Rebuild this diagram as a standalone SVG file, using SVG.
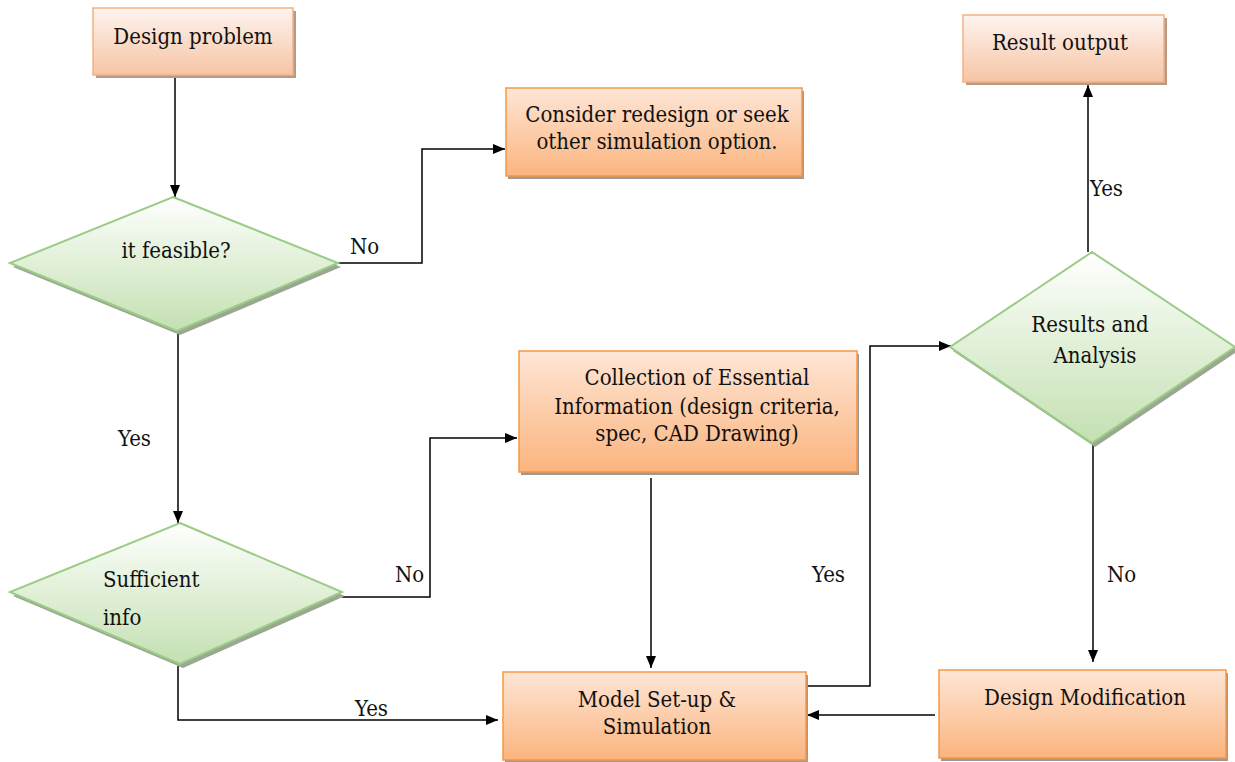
<svg xmlns="http://www.w3.org/2000/svg" width="1235" height="762" viewBox="0 0 1235 762">
<defs>
<linearGradient id="gOrange" x1="0" y1="0" x2="0" y2="1">
<stop offset="0" stop-color="#fee6d6"/>
<stop offset="1" stop-color="#fbb47e"/>
</linearGradient>
<linearGradient id="gPeach" x1="0" y1="0" x2="0" y2="1">
<stop offset="0" stop-color="#fef4ef"/>
<stop offset="1" stop-color="#f6c4a4"/>
</linearGradient>
<linearGradient id="gGreen" x1="0" y1="0" x2="0" y2="1">
<stop offset="0" stop-color="#ffffff"/>
<stop offset="0.35" stop-color="#e9f4e2"/>
<stop offset="1" stop-color="#c4e0b2"/>
</linearGradient>
<marker id="arr" viewBox="0 0 12 10" refX="12" refY="5" markerWidth="12" markerHeight="10" markerUnits="userSpaceOnUse" orient="auto">
<path d="M0,0 L12,5 L0,10 z" fill="#000"/>
</marker>
</defs>
<style>
text{font-family:'DejaVu Serif',serif;font-stretch:condensed;font-size:22px;fill:#111}
.c{text-anchor:middle}
.box{fill:url(#gOrange);stroke:#f79646;stroke-width:1.5}
.boxL{fill:url(#gPeach);stroke:#f4b183;stroke-width:1.5}
.sh{fill:#9a9a9a}
.shL{fill:#b59a88}
.dia{fill:url(#gGreen);stroke:#9bcc85;stroke-width:2}
.shD{fill:#9aa892}
.ln{fill:none;stroke:#000;stroke-width:1.5}
</style>
<rect width="1235" height="762" fill="#fff"/>

<g id="connectors">
<path class="ln" d="M175,75 V197" marker-end="url(#arr)"/>
<path class="ln" d="M338,263 H422 V149 H505" marker-end="url(#arr)"/>
<path class="ln" d="M178,334 V523" marker-end="url(#arr)"/>
<path class="ln" d="M342,597 H430 V438 H517" marker-end="url(#arr)"/>
<path class="ln" d="M178,666 V720 H498" marker-end="url(#arr)"/>
<path class="ln" d="M651,478 V668" marker-end="url(#arr)"/>
<path class="ln" d="M808,686 H870 V346 H951" marker-end="url(#arr)"/>
<path class="ln" d="M1088,252 V85" marker-end="url(#arr)"/>
<path class="ln" d="M1093,445 V662" marker-end="url(#arr)"/>
<path class="ln" d="M935,715 H807" marker-end="url(#arr)"/>
<text x="350" y="254">No</text>
<text x="118" y="446">Yes</text>
<text x="395" y="582">No</text>
<text x="355" y="716">Yes</text>
<text x="812" y="582">Yes</text>
<text x="1090" y="196">Yes</text>
<text x="1107" y="582">No</text>
</g>

<g id="design-problem">
<rect class="shL" x="96" y="11" width="200" height="67"/>
<rect class="boxL" x="93" y="8" width="200" height="67"/>
<text class="c" x="193" y="44">Design problem</text>
</g>

<g id="feasible">
<polygon class="shD" points="176,201 341,267 180,335 13,267"/>
<polygon class="dia" points="173,197 338,263 177,331 10,263"/>
<text class="c" x="176" y="258">it feasible?</text>
</g>

<g id="consider-redesign">
<rect class="sh" x="508" y="91" width="296" height="88"/>
<rect class="box" x="506" y="88" width="296" height="88"/>
<text class="c" x="657" y="122">Consider redesign or seek</text>
<text class="c" x="657" y="149">other simulation option.</text>
</g>

<g id="sufficient-info">
<polygon class="shD" points="183,527 345,596 183,668 13,596"/>
<polygon class="dia" points="180,523 342,592 180,664 10,592"/>
<text x="103" y="587">Sufficient</text>
<text x="103" y="625">info</text>
</g>

<g id="collection">
<rect class="sh" x="521" y="354" width="338" height="121"/>
<rect class="box" x="519" y="351" width="338" height="121"/>
<text class="c" x="697" y="385">Collection of Essential</text>
<text class="c" x="697" y="414">Information (design criteria,</text>
<text class="c" x="697" y="441">spec, CAD Drawing)</text>
</g>

<g id="model-setup">
<rect class="sh" x="505" y="675" width="303" height="88"/>
<rect class="box" x="503" y="672" width="303" height="88"/>
<text class="c" x="657" y="707">Model Set-up &amp;</text>
<text class="c" x="657" y="734">Simulation</text>
</g>

<g id="results-analysis">
<polygon class="shD" points="1095,256 1238,351 1095,447 953,351"/>
<polygon class="dia" points="1092,252 1235,347 1092,443 950,347"/>
<text class="c" x="1090" y="332">Results and</text>
<text class="c" x="1095" y="363">Analysis</text>
</g>

<g id="result-output">
<rect class="shL" x="966" y="18" width="201" height="67"/>
<rect class="boxL" x="963" y="15" width="201" height="67"/>
<text class="c" x="1060" y="50">Result output</text>
</g>

<g id="design-modification">
<rect class="sh" x="941" y="673" width="287" height="88"/>
<rect class="box" x="939" y="670" width="287" height="88"/>
<text class="c" x="1085" y="705">Design Modification</text>
</g>
</svg>
